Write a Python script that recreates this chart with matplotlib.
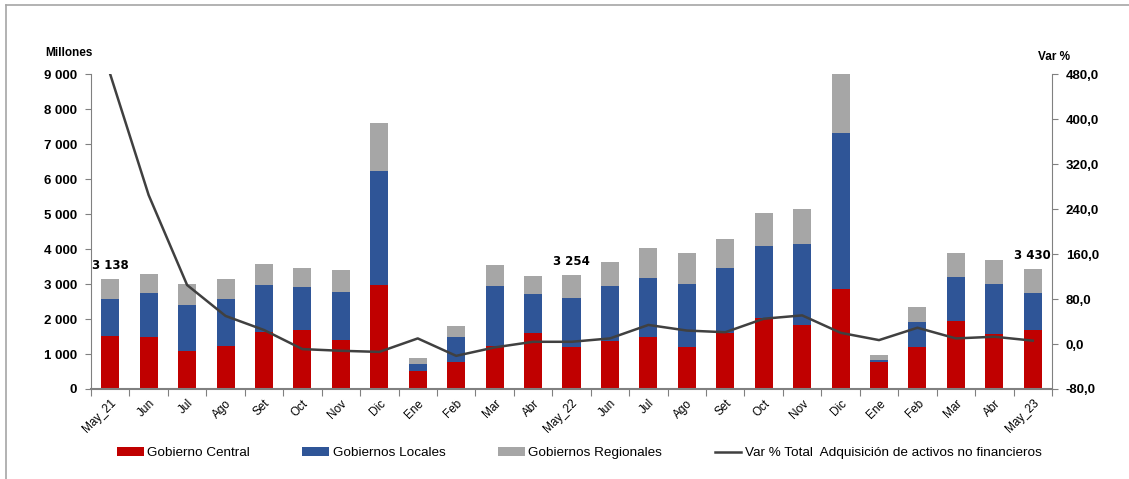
import numpy as np
import matplotlib
matplotlib.use("Agg")
import matplotlib.pyplot as plt
from matplotlib.lines import Line2D
from matplotlib.ticker import FuncFormatter

labels = ['May_21', 'Jun', 'Jul', 'Ago', 'Set', 'Oct', 'Nov', 'Dic', 'Ene', 'Feb', 'Mar', 'Abr',
          'May_22', 'Jun', 'Jul', 'Ago', 'Set', 'Oct', 'Nov', 'Dic', 'Ene', 'Feb', 'Mar', 'Abr', 'May_23']
central = [1516, 1497, 1087, 1230, 1630, 1687, 1401, 2974, 524, 772, 1239, 1611,
           1211, 1382, 1497, 1192, 1592, 2030, 1821, 2860, 772, 1201, 1945, 1573, 1687]
locales = [1058, 1239, 1306, 1344, 1344, 1221, 1373, 3270, 191, 715, 1716, 1096,
           1391, 1554, 1668, 1820, 1859, 2060, 2335, 4471, 57, 725, 1258, 1420, 1058]
regionales = [564, 543, 619, 581, 591, 562, 639, 1363, 162, 324, 591, 534,
              652, 686, 877, 877, 839, 943, 992, 1669, 134, 429, 686, 696, 685]
var_pct = [480, 265, 105, 50, 25, -9, -12, -14, 10, -21, -6, 4,
           4, 10, 34, 24, 21, 45, 51, 20, 7, 29, 10, 13, 6]
labelled = [0, 12, 24]

plt.rcParams['font.family'] = ['Liberation Sans', 'DejaVu Sans']

c_red = '#C00000'
c_blue = '#2F5597'
c_grey = '#A6A6A6'
c_line = '#404040'
c_axis = '#808080'

x = np.arange(len(labels))
central = np.array(central)
locales = np.array(locales)
regionales = np.array(regionales)
total = central + locales + regionales

fig = plt.figure(figsize=(11.29, 4.79), dpi=100)
ax = fig.add_axes([0.0806, 0.1879, 0.8512, 0.657])

w = 0.47
ax.bar(x, central, w, color=c_red, label='Gobierno Central', zorder=2)
ax.bar(x, locales, w, bottom=central, color=c_blue, label='Gobiernos Locales', zorder=2)
ax.bar(x, regionales, w, bottom=central + locales, color=c_grey, label='Gobiernos Regionales', zorder=2)

for i in labelled:
    txt = f"{total[i]:,}".replace(',', ' ')
    ax.annotate(txt, (x[i], total[i]), xytext=(0, 5), textcoords='offset points',
                ha='center', va='bottom', fontsize=8.5, fontweight='bold', family='DejaVu Sans')

ax.set_xlim(-0.5, len(labels) - 0.5)
ax.set_ylim(0, 9000)
ax.set_yticks(np.arange(0, 9001, 1000))
ax.yaxis.set_major_formatter(FuncFormatter(lambda v, p: f"{int(v):,}".replace(',', ' ')))

# ticks between categories, labels at the centres
ax.set_xticks(np.arange(-0.5, len(labels), 1))
ax.set_xticklabels([])
ax.set_xticks(x, minor=True)
ax.set_xticklabels(labels, minor=True, rotation=45, ha='right', va='top',
                   rotation_mode='anchor', fontsize=8.5)
ax.tick_params(axis='x', which='minor', length=0, pad=6)
ax.tick_params(axis='x', which='major', length=5, color=c_axis, direction='out')
ax.tick_params(axis='y', length=4, color=c_axis, labelsize=9.5, pad=6)
for t in ax.get_yticklabels():
    t.set_fontweight('bold')

for s in ['top', 'right']:
    ax.spines[s].set_visible(False)
ax.spines['left'].set_color(c_axis)
ax.spines['bottom'].set_color(c_axis)
ax.spines['bottom'].set_linewidth(1.5)

ax2 = ax.twinx()
ax2.plot(x, var_pct, color=c_line, lw=1.8, label='Var % Total  Adquisición de activos no financieros', zorder=3)
ax2.set_ylim(-80, 480)
ax2.set_yticks(np.arange(-80, 481, 80))
ax2.yaxis.set_major_formatter(FuncFormatter(lambda v, p: f"{v:.1f}".replace('.', ',')))
ax2.tick_params(axis='y', length=4, color=c_axis, labelsize=9.5, pad=6)
for t in ax2.get_yticklabels():
    t.set_fontweight('bold')
for s in ['top', 'left', 'bottom']:
    ax2.spines[s].set_visible(False)
ax2.spines['right'].set_color(c_axis)

fig.text(45 / 1129, 1 - 53 / 479, 'Millones', fontsize=8.5, fontweight='bold', va='center', ha='left')
fig.text(1038 / 1129, 1 - 57 / 479, 'Var %', fontsize=8.5, fontweight='bold', va='center', ha='left')

h1, l1 = ax.get_legend_handles_labels()
h2, l2 = ax2.get_legend_handles_labels()
fig.legend(h1 + h2, l1 + l2, loc='center', bbox_to_anchor=(0.513, 0.054), ncol=4, frameon=False,
           fontsize=9.7, handlelength=2.0, handleheight=0.6, handletextpad=0.25, columnspacing=3.9)

# light frame around the chart
fig.add_artist(Line2D([6 / 1129, 6 / 1129], [0, 1 - 5 / 479], color='#A6A6A6', lw=1.2))
fig.add_artist(Line2D([6 / 1129, 1], [1 - 5 / 479, 1 - 5 / 479], color='#A6A6A6', lw=1.2))

fig.savefig('out.png', dpi=100)
